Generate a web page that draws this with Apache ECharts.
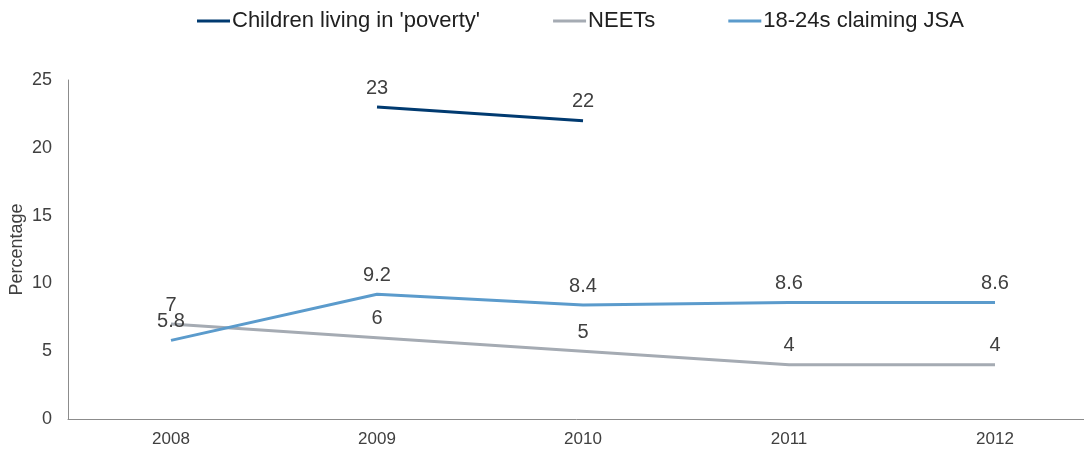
<!DOCTYPE html>
<html>
<head>
<meta charset="utf-8">
<script src="https://cdn.jsdelivr.net/npm/echarts@6/dist/echarts.min.js"></script>
<style>
  html, body { margin: 0; padding: 0; background: #fff; }
  #chart { width: 1084px; height: 450px; }
</style>
</head>
<body>
<div id="chart"></div>
<script>
const years = ['2008', '2009', '2010', '2011', '2012'];
const childPoverty = [null, 23, 22, null, null];
const neets = [7, 6, 5, 4, 4];
const jsa = [5.8, 9.2, 8.4, 8.6, 8.6];

const chart = echarts.init(document.getElementById('chart'));

const labelStyle = {
    show: true,
    position: 'top',
    distance: 9,
    color: '#404040',
    fontSize: 20,
    fontFamily: 'Liberation Sans, Arial, sans-serif'
};

function lineSeries(name, data, color) {
    return {
        name: name,
        type: 'line',
        data: data,
        symbol: 'circle',
        symbolSize: 0,
        showSymbol: true,
        connectNulls: false,
        lineStyle: { color: color, width: 3 },
        itemStyle: { color: color },
        label: labelStyle
    };
}

chart.setOption({
    animation: false,
    textStyle: { fontFamily: 'Liberation Sans, Arial, sans-serif' },
    legend: {
        top: 10,
        left: 197,
        padding: 0,
        itemGap: 73,
        itemWidth: 33,
        itemHeight: 3,
        icon: 'rect',
        textStyle: { color: '#202020', fontSize: 22, padding: [0, 0, 0, -3] },
        data: ["Children living in 'poverty'", 'NEETs', '18-24s claiming JSA']
    },
    grid: {
        left: 68,
        right: -14,
        top: 80,
        bottom: 31,
        outerBoundsMode: 'none'
    },
    xAxis: {
        type: 'category',
        data: years,
        boundaryGap: true,
        axisLine: { lineStyle: { color: '#8c8c8c', width: 1 } },
        axisTick: { show: false },
        axisLabel: { color: '#404040', fontSize: 17, margin: 12 }
    },
    yAxis: {
        type: 'value',
        min: 0,
        max: 25,
        interval: 5,
        name: 'Percentage',
        nameLocation: 'middle',
        nameGap: 42,
        nameMoveOverlap: false,
        nameTextStyle: { color: '#404040', fontSize: 18 },
        axisLine: { show: true, lineStyle: { color: '#8c8c8c', width: 1 } },
        axisTick: { show: false },
        splitLine: { show: false },
        axisLabel: { color: '#404040', fontSize: 18, margin: 16 }
    },
    series: [
        lineSeries("Children living in 'poverty'", childPoverty, '#003a70'),
        lineSeries('NEETs', neets, '#a5abb3'),
        lineSeries('18-24s claiming JSA', jsa, '#5b9bcc')
    ]
});

window.addEventListener('resize', function () {
    chart.resize();
});
</script>
</body>
</html>
